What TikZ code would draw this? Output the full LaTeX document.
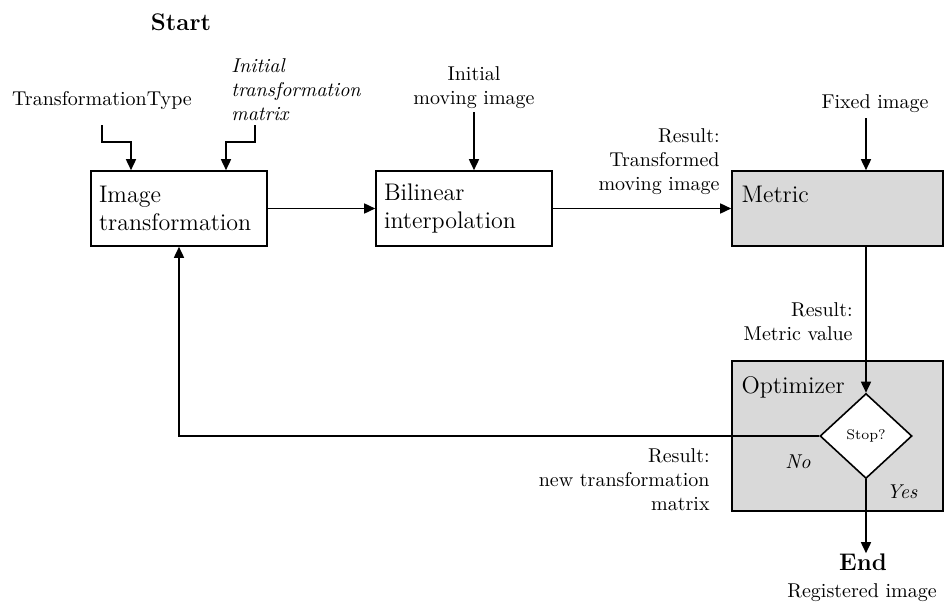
\documentclass[tikz,border=0pt]{standalone}
\usetikzlibrary{shapes.geometric,arrows.meta}
\begin{document}
\begin{tikzpicture}[x=0.5pt,y=-0.5pt,
  lbl/.style={font=\normalsize, inner sep=0pt, align=center},
  box/.style={draw, line width=0.8pt, minimum width=88pt, minimum height=37.5pt, text width=80pt, align=left, font=\large, inner sep=4pt},
  gbox/.style={draw, line width=0.8pt, fill=black!15, minimum width=105.5pt},
  tag/.style={anchor=north west, inner xsep=5pt, inner ysep=8pt, font=\large},
  arr/.style={line width=0.8pt, -{Triangle[length=5.5pt,width=5pt]}},
  decision/.style={draw, diamond, fill=white, line width=0.8pt, minimum width=46pt, minimum height=42.5pt, inner sep=0pt, font=\scriptsize}
]
\useasboundingbox (0,0) rectangle (944,605);

% boxes
\node[box] (img) at (179,208.5) {Image\\transformation};
\node[box] (bil) at (464,208.5) {Bilinear\\interpolation};
\node[gbox, minimum height=37.5pt, label={[tag]north west:Metric}] (met) at (837.5,208.5) {};
\node[gbox, minimum height=75pt, label={[tag]north west:Optimizer}] (opt) at (837.5,436) {};
\node[decision] (dia) at (866,436) {Stop?};

% labels
\node[lbl, font=\large\bfseries] (start) at (181,22) {Start};
\node[lbl] (ttype) at (102,100) {TransformationType};
\node[lbl, anchor=west, align=left, font=\itshape] (itm) at (231,90) {Initial\\transformation\\matrix};
\node[lbl] (imov) at (474,88) {Initial\\moving image};
\node[lbl, anchor=east, align=right] (rtm) at (720,162) {Result:\\Transformed\\moving image};
\node[lbl] (fix) at (875,104) {Fixed image};
\node[lbl, anchor=east, align=right] (rmv) at (853,322) {Result:\\Metric value};
\node[lbl, anchor=east, align=right] (rnt) at (710,480) {Result:\\new transformation\\matrix};
\node[lbl, font=\itshape] (no) at (798,462) {No};
\node[lbl, font=\itshape] (yes) at (902,492) {Yes};
\node[lbl, font=\large\bfseries] (endn) at (863,562) {End};
\node[lbl] (reg) at (862,593) {Registered image};

% free ends
\coordinate (c1) at (102,125);
\coordinate (c2) at (255,125);
\coordinate (c3) at (474,112);
\coordinate (c4) at (866,118);

% connectors
\draw[arr] (c1) -- ++(0,17) -| ([xshift=-24pt]img.north);
\draw[arr] (c2) -- ++(0,17) -| ([xshift=23.5pt]img.north);
\draw[arr] (c3) -- (c3 |- bil.north);
\draw[arr] (img) -- (bil);
\draw[arr] (bil) -- (met);
\draw[arr] (c4) -- (c4 |- met.north);
\draw[arr] (dia.north |- met.south) -- (dia.north);
\draw[arr] (dia.west) -| (img.south);
\draw[arr] (dia.south) -- (dia.south |- endn.north);
\end{tikzpicture}
\end{document}
